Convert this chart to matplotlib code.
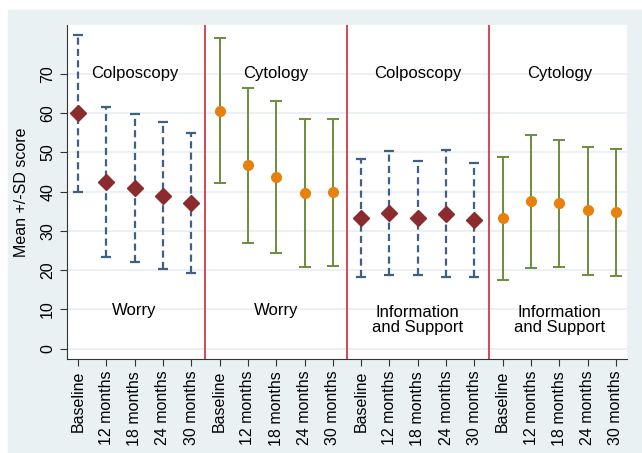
import matplotlib.pyplot as plt
import numpy as np
from matplotlib.patches import Rectangle

plt.rcParams['font.family'] = ['Liberation Sans', 'DejaVu Sans']

# Visit labels, repeated for each of the four panels
visits = ["Baseline", "12 months", "18 months", "24 months", "30 months"]

# Colposcopy - Worry
colp_worry_mean = [60.0, 42.5, 40.8, 38.9, 37.0]
colp_worry_lo = [40.0, 23.4, 22.1, 20.3, 19.3]
colp_worry_hi = [79.9, 61.5, 59.8, 57.6, 55.0]

# Cytology - Worry
cyto_worry_mean = [60.5, 46.7, 43.6, 39.7, 39.9]
cyto_worry_lo = [42.1, 27.0, 24.4, 20.8, 21.1]
cyto_worry_hi = [79.1, 66.3, 63.0, 58.5, 58.5]

# Colposcopy - Information and Support
colp_info_mean = [33.2, 34.5, 33.4, 34.3, 32.9]
colp_info_lo = [18.2, 18.7, 18.9, 18.2, 18.3]
colp_info_hi = [48.3, 50.3, 47.8, 50.5, 47.4]

# Cytology - Information and Support
cyto_info_mean = [33.2, 37.6, 37.0, 35.3, 34.7]
cyto_info_lo = [17.4, 20.5, 20.9, 18.9, 18.5]
cyto_info_hi = [48.8, 54.5, 53.1, 51.3, 50.8]

panel_top = ["Colposcopy", "Cytology", "Colposcopy", "Cytology"]
panel_bottom = ["Worry", "Worry", "Information\nand Support", "Information\nand Support"]

blue = "#3f5f86"
maroon = "#8c2b2e"
green = "#6b8c3e"
orange = "#e8800c"
red = "#d23a48"

fig = plt.figure(figsize=(6.42, 4.53), dpi=100)
# light background panel (Stata style)
fig.patches.append(Rectangle((8 / 642, 0.0), 1 - 8 / 642, 1 - 10 / 453,
                             transform=fig.transFigure, color="#eaf1f3", zorder=-10))
ax = fig.add_axes([67 / 642, 1 - 359 / 453, 560 / 642, 334 / 453])
ax.set_facecolor("white")

groups = [
    (colp_worry_mean, colp_worry_lo, colp_worry_hi, "colp"),
    (cyto_worry_mean, cyto_worry_lo, cyto_worry_hi, "cyto"),
    (colp_info_mean, colp_info_lo, colp_info_hi, "colp"),
    (cyto_info_mean, cyto_info_lo, cyto_info_hi, "cyto"),
]

for g, (mean, lo, hi, kind) in enumerate(groups):
    x = np.arange(1, 6) + 5 * g
    mean = np.array(mean)
    yerr = [mean - np.array(lo), np.array(hi) - mean]
    if kind == "colp":
        eb = ax.errorbar(x, mean, yerr=yerr, fmt="none", ecolor=blue, elinewidth=1.6,
                         capsize=3.5, capthick=1.6, zorder=3)
        eb[2][0].set_linestyle((0, (3.2, 1.9)))
        ax.plot(x, mean, "D", color=maroon, markersize=8, zorder=4)
    else:
        ax.errorbar(x, mean, yerr=yerr, fmt="none", ecolor=green, elinewidth=1.4,
                    capsize=4, capthick=1.4, zorder=3)
        ax.plot(x, mean, "o", color=orange, markersize=7, zorder=4)
    ax.text(x.mean(), 70, panel_top[g], ha="center", va="center", fontsize=12)
    ax.text(x.mean(), 7.4 if "\n" in panel_bottom[g] else 9.8, panel_bottom[g],
            ha="center", va="center", fontsize=12, linespacing=1.0)

for xv in [5.5, 10.5, 15.5]:
    ax.axvline(xv, color=red, linewidth=1.3, zorder=2)

ax.set_xlim(0.61, 20.39)
ax.set_ylim(-2.6, 82.4)
ax.set_yticks(np.arange(0, 80, 10))
ax.tick_params(axis="y", labelrotation=90, labelsize=11.5, length=5, color="#333333")
for lab in ax.get_yticklabels():
    lab.set_va("center")
ax.set_xticks(np.arange(1, 21))
ax.set_xticklabels(visits * 4, rotation=90, fontsize=11.5)
ax.tick_params(axis="x", length=5, color="#333333")
ax.yaxis.grid(True, color="#e6eef1", linewidth=1.2)
ax.set_axisbelow(True)
ax.spines["top"].set_visible(False)
ax.spines["right"].set_visible(False)
ax.spines["left"].set_color("#333333")
ax.spines["bottom"].set_color("#333333")
ax.set_ylabel("Mean +/-SD score", fontsize=11.5, labelpad=8)

fig.savefig("out.png", dpi=100)
